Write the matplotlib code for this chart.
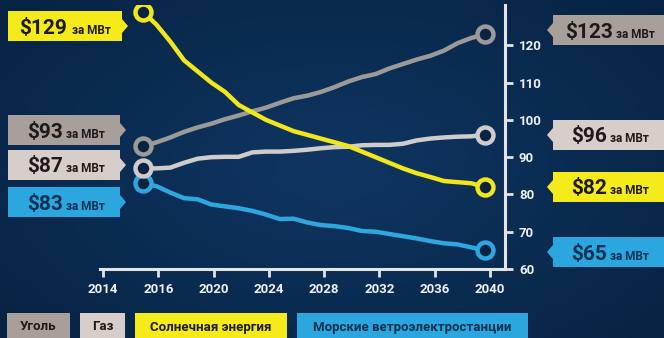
import numpy as np
import matplotlib
matplotlib.use('Agg')
import matplotlib.pyplot as plt
from matplotlib.patches import Polygon, Rectangle

# levelized cost, $ per MWh, yearly 2015..2040
years = np.arange(2015, 2041)
coal = [93, 94, 95.3, 96.8, 98, 99, 100.2, 101.2, 102.3, 103.3, 104.6, 105.8, 106.5,
        107.5, 108.8, 110.3, 111.5, 112.3, 113.8, 115, 116.2, 117.2, 118.6, 120.6, 122, 123]
gas = [87, 87, 87.2, 88.5, 89.6, 90, 90.1, 90.1, 91.3, 91.5, 91.5, 91.7, 92,
       92.4, 92.7, 92.8, 93.2, 93.3, 93.3, 93.6, 94.5, 95, 95.3, 95.5, 95.6, 96]
solar = [129, 125.5, 121, 116, 113, 110, 107.5, 104, 102, 100, 98.5, 97, 96,
         95, 94, 93, 91.5, 90, 88.5, 87, 85.7, 84.7, 83.6, 83.3, 83, 82]
wind = [83, 82.2, 80.5, 79, 78.7, 77.3, 76.8, 76.3, 75.6, 74.6, 73.4, 73.5, 72.5,
        71.8, 71.5, 71, 70.2, 70, 69.4, 68.8, 68.2, 67.5, 66.9, 66.6, 65.8, 65]

x_labels = ['2014', '2016', '2020', '2024', '2028', '2032', '2036', '2040']
y_ticks = [60, 70, 80, 90, 100, 110, 120]
names = ['Уголь', 'Газ', 'Солнечная энергия', 'Морские ветроэлектростанции']
unit = 'за МВт'

BG = '#0b2b50'
AXC = '#e4e4e4'
colors = {'coal': '#9c9a99', 'gas': '#cfcccb', 'solar': '#f2e61c', 'wind': '#2ea6de'}
box_colors = {'coal': '#a89f9b', 'gas': '#d8cec9', 'solar': '#f5ea1a', 'wind': '#2ba6df'}
ink = {'coal': '#1d1b1a', 'gas': '#1d1b1a', 'solar': '#1d1b10', 'wind': '#0f3152'}

FONT = dict(family='Roboto', weight='bold')

W, H = 664, 338
fig = plt.figure(figsize=(W / 100, H / 100), dpi=100)


def fx(x):
    return x / W


def fy(y):
    return 1 - y / H


# navy backdrop, a bit lighter in the middle
bg = fig.add_axes([0, 0, 1, 1])
gx, gy = np.meshgrid(np.linspace(-1, 1, 200), np.linspace(-1, 1, 100))
r = np.clip(np.sqrt(gx ** 2 + (gy * 0.9) ** 2), 0, 1.4)
c0 = np.array([15, 54, 98]) / 255
c1 = np.array([7, 34, 66]) / 255
img = c0[None, None, :] + (c1 - c0)[None, None, :] * (r / 1.4)[..., None]
bg.imshow(img, extent=[0, 1, 0, 1], aspect='auto')
bg.axis('off')

ax = fig.add_axes([fx(100), fy(269), fx(405), 264 / H])
ax.patch.set_alpha(0)
step = (490 - 103) / 7
ax.set_xlim(-3 / step, 7 + 15 / step)
ax.set_ylim(60, 60 + 264 / 3.727)

xpos = np.interp(years, [2015, 2040], [(143 - 103) / step, (485 - 103) / step])

series = [('wind', wind), ('coal', coal), ('gas', gas), ('solar', solar)]
for z, (key, vals) in enumerate(series):
    ax.plot(xpos, vals, color=colors[key], lw=3.2, solid_joinstyle='round',
            solid_capstyle='round', zorder=3 + z)
    ax.plot([xpos[0], xpos[-1]], [vals[0], vals[-1]], 'o', ms=11.5, mfc='#0a2340',
            mec=colors[key], mew=3.2, zorder=10 + z)

for s in ['left', 'top']:
    ax.spines[s].set_visible(False)
for s in ['bottom', 'right']:
    ax.spines[s].set_color(AXC)
    ax.spines[s].set_linewidth(2.2)
ax.yaxis.tick_right()
ax.set_xticks(range(len(x_labels)))
ax.set_xticklabels(x_labels)
ax.set_yticks(y_ticks)
ax.tick_params(axis='both', colors=AXC, length=6, width=2, labelsize=9.5, pad=4)
for lbl in ax.get_xticklabels() + ax.get_yticklabels():
    lbl.set(**FONT)
    lbl.set_color('#eef0f2')

renderer = fig.canvas.get_renderer()


def tag(key, value, cx, yc, x0, x1, side):
    h = 30
    top, bot = yc - h / 2, yc + h / 2
    if side == 'left':
        pts = [(x0, top), (x1, top), (x1, yc - 7), (x1 + 6, yc), (x1, yc + 7), (x1, bot), (x0, bot)]
    else:
        pts = [(x0, top), (x1, top), (x1, bot), (x0, bot), (x0, yc + 7), (x0 - 6, yc), (x0, yc - 7)]
    fig.patches.append(Polygon([(fx(a), fy(b)) for a, b in pts], closed=True,
                               transform=fig.transFigure, fc=box_colors[key], ec='none'))
    base = fy(yc + 7.5)
    big = fig.text(0, base, '$' + f'{value:.0f}', fontsize=15, color=ink[key], va='baseline', **FONT)
    small = fig.text(0, base, unit, fontsize=8.5, color=ink[key], va='baseline', **FONT)
    wb = big.get_window_extent(renderer).width
    ws = small.get_window_extent(renderer).width
    start = cx - (wb + 4 + ws) / 2
    big.set_x(fx(start))
    small.set_x(fx(start + wb + 4))


# left tags hold the 2015 values, right tags the 2040 values
tag('solar', solar[0], 65, 26, 8, 122, 'left')
tag('coal', coal[0], 66, 130, 8, 120, 'left')
tag('gas', gas[0], 66, 165, 8, 120, 'left')
tag('wind', wind[0], 66, 202, 8, 120, 'left')
tag('coal', coal[-1], 610, 30, 553, 700, 'right')
tag('gas', gas[-1], 610, 135, 553, 700, 'right')
tag('solar', solar[-1], 610, 187, 553, 700, 'right')
tag('wind', wind[-1], 610, 252, 553, 700, 'right')

# legend chips along the bottom
chips = [('coal', 7, 70), ('gas', 80, 125), ('solar', 135, 287), ('wind', 297, 528)]
for (key, a, b), name in zip(chips, names):
    fig.patches.append(Rectangle((fx(a), 0), fx(b - a), fy(313), transform=fig.transFigure,
                                 fc=box_colors[key], ec='none'))
    fig.text(fx((a + b) / 2), fy(327), name, ha='center', va='center', fontsize=9.5,
             color=ink[key], **FONT)

fig.savefig('out.png', dpi=100, facecolor=BG)
